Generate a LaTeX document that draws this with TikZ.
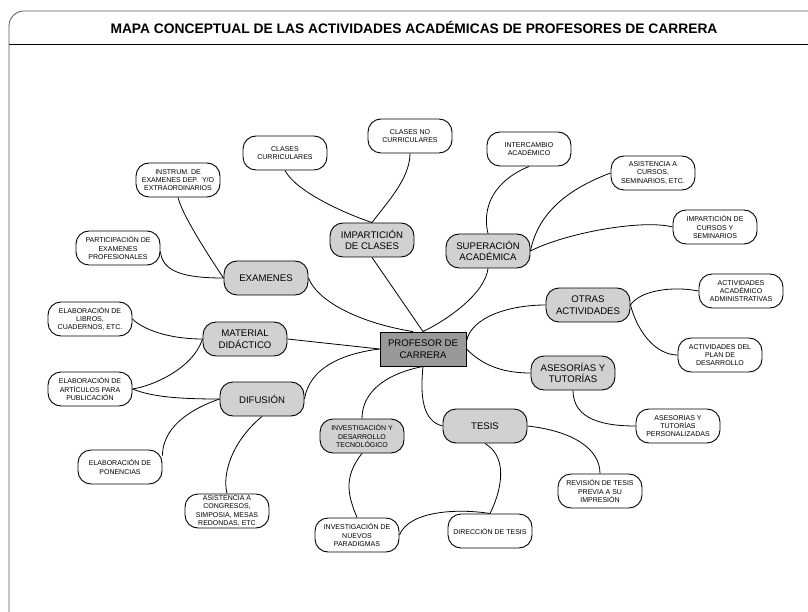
\documentclass[tikz,border=0pt]{standalone}
\usepackage{fontspec}
\setmainfont{Liberation Sans}
\definecolor{lightfill}{gray}{0.82}
\definecolor{centerfill}{gray}{0.6}
\begin{document}
\begin{tikzpicture}[x=1pt, y=-1pt,
        mainbox/.style={draw, line width=0.9pt, fill=lightfill, rounded corners=13pt, minimum width=84pt, minimum height=34pt, inner sep=0pt, align=center, font=\fontsize{9.6}{11.7}\selectfont},
        subbox/.style={draw, line width=0.9pt, fill=white, rounded corners=13pt, minimum width=84pt, minimum height=34pt, inner sep=0pt, align=center, font=\fontsize{7}{8.3}\selectfont},
        link/.style={line width=0.8pt}]
        \useasboundingbox (0,0) rectangle (808,612);
        \begin{scope}
                \clip (0,0) rectangle (808,612);
                \draw[gray!70!black, line width=0.8pt, rounded corners=15pt] (9,11) rectangle (840,640);
        \end{scope}
        \draw[line width=0.8pt] (9,44) -- (808,44);
        \node[font=\bfseries\fontsize{13.8}{16}\selectfont] (title) at (414,27.5) {MAPA CONCEPTUAL DE LAS ACTIVIDADES ACADÉMICAS DE PROFESORES DE CARRERA};

        % centro y temas principales
        \node[draw, line width=0.9pt, fill=centerfill, minimum width=86pt, minimum height=34pt, inner sep=0pt, align=center, font=\fontsize{9.6}{11.7}\selectfont] (prof) at (423,349) {PROFESOR DE\\CARRERA};
        \node[mainbox] (impart) at (372,240) {IMPARTICIÓN\\DE CLASES};
        \node[mainbox] (super) at (488,251) {SUPERACIÓN\\ACADÉMICA};
        \node[mainbox] (exam) at (266,278) {EXAMENES};
        \node[mainbox] (material) at (245,339) {MATERIAL\\DIDÁCTICO};
        \node[mainbox] (difusion) at (262,399) {DIFUSIÓN};
        \node[mainbox] (otras) at (588,305) {OTRAS\\ACTIVIDADES};
        \node[mainbox] (asesor) at (573,373) {ASESORÍAS Y\\TUTORÍAS};
        \node[mainbox] (tesis) at (485,426) {TESIS};
        \node[mainbox, font=\fontsize{7}{8.3}\selectfont] (invdes) at (362,436) {INVESTIGACIÓN Y\\DESARROLLO\\TECNOLÓGICO};

        % actividades
        \node[subbox] (curric) at (285,153) {CLASES\\CURRICULARES};
        \node[subbox] (nocurric) at (410,136) {CLASES NO\\CURRICULARES};
        \node[subbox] (interc) at (529,149) {INTERCAMBIO\\ACADÉMICO};
        \node[subbox] (instrum) at (178,180) {INSTRUM. DE\\EXAMENES DEP.~~Y/O\\EXTRAORDINARIOS};
        \node[subbox] (partic) at (118,248) {PARTICIPACIÓN DE\\EXAMENES\\PROFESIONALES};
        \node[subbox] (asiscur) at (653,173) {ASISTENCIA A\\CURSOS,\\SEMINARIOS, ETC.};
        \node[subbox] (impcur) at (715,227) {IMPARTICIÓN DE\\CURSOS Y\\SEMINARIOS};
        \node[subbox] (actadm) at (741,291) {ACTIVIDADES\\ACADÉMICO\\ADMINISTRATIVAS};
        \node[subbox] (actplan) at (720,355) {ACTIVIDADES DEL\\PLAN DE\\DESARROLLO};
        \node[subbox] (personal) at (678,426) {ASESORIAS Y\\TUTORÍAS\\PERSONALIZADAS};
        \node[subbox] (revision) at (600,491) {REVISIÓN DE TESIS\\PREVIA A SU\\IMPRESIÓN};
        \node[subbox] (libros) at (90,319) {ELABORACIÓN DE\\LIBROS,\\CUADERNOS, ETC.};
        \node[subbox] (articulos) at (90,389) {ELABORACIÓN DE\\ARTÍCULOS PARA\\PUBLICACIÓN};
        \node[subbox] (ponencias) at (120,467) {ELABORACIÓN DE\\PONENCIAS};
        \node[subbox] (congresos) at (227,511) {ASISTENCIA A\\CONGRESOS,\\SIMPOSIA, MESAS\\REDONDAS, ETC};
        \node[subbox] (paradigmas) at (357,535) {INVESTIGACIÓN DE\\NUEVOS\\PARADIGMAS};
        \node[subbox] (direccion) at (490,531) {DIRECCIÓN DE TESIS};

        % ramas del centro
        \draw[link] (prof.north) -- (impart.south);
        \draw[link] (prof.north) .. controls +(25,-12) and +(-3,25) .. (super.south);
        \draw[link] (prof.120) .. controls +(-50,-8) and +(10,25) .. (exam.east);
        \draw[link] (prof.west) -- (material.east);
        \draw[link] (prof.west) .. controls +(-40,5) and +(5,-30) .. (difusion.east);
        \draw[link] (prof.10) .. controls +(5,-25) and +(-35,0) .. (otras.west);
        \draw[link] (prof.east) .. controls +(15,15) and +(-30,0) .. (asesor.west);
        \draw[link] (prof.south) .. controls +(-3,30) and +(-20,-5) .. (tesis.west);
        \draw[link] (prof.south) .. controls +(-40,8) and +(0,-25) .. (invdes.north);

        % ramas secundarias
        \draw[link] (impart.north) .. controls +(-30,-10) and +(10,20) .. (curric.south);
        \draw[link] (impart.north) .. controls +(15,-20) and +(0,25) .. (nocurric.south);
        \draw[link] (super.north) .. controls +(-8,-35) and +(-25,10) .. (interc.south);
        \draw[link] (super.east) .. controls +(8,-40) and +(-40,15) .. (asiscur.west);
        \draw[link] (super.east) .. controls +(35,-18) and +(-30,-8) .. (impcur.west);
        \draw[link] (otras.east) .. controls +(10,-15) and +(-25,-5) .. (actadm.west);
        \draw[link] (otras.east) .. controls +(8,30) and +(-20,0) .. (actplan.west);
        \draw[link] (asesor.south) .. controls +(0,30) and +(-30,0) .. (personal.west);
        \draw[link] (tesis.east) .. controls +(45,5) and +(0,-25) .. (revision.north);
        \draw[link] (tesis.south) .. controls +(25,15) and +(10,-20) .. (direccion.north);
        \draw[link] (invdes.south) .. controls +(-20,25) and +(-8,-20) .. (paradigmas.north);
        \draw[link] (paradigmas.east) .. controls +(10,-25) and +(-30,-5) .. (direccion.north);
        \draw[link] (exam.west) .. controls +(-10,-15) and +(5,20) .. (instrum.south);
        \draw[link] (exam.west) .. controls +(-40,0) and +(2,20) .. (partic.-5);
        \draw[link] (material.west) .. controls +(-35,0) and +(10,10) .. (libros.east);
        \draw[link] (material.west) .. controls +(-10,30) and +(20,-3) .. (articulos.east);
        \draw[link] (difusion.west) .. controls +(-40,0) and +(20,8) .. (articulos.east);
        \draw[link] (difusion.west) .. controls +(-35,12) and +(0,-25) .. (ponencias.15);
        \draw[link] (difusion.south) .. controls +(-30,25) and +(-5,-20) .. (congresos.north);
\end{tikzpicture}
\end{document}
